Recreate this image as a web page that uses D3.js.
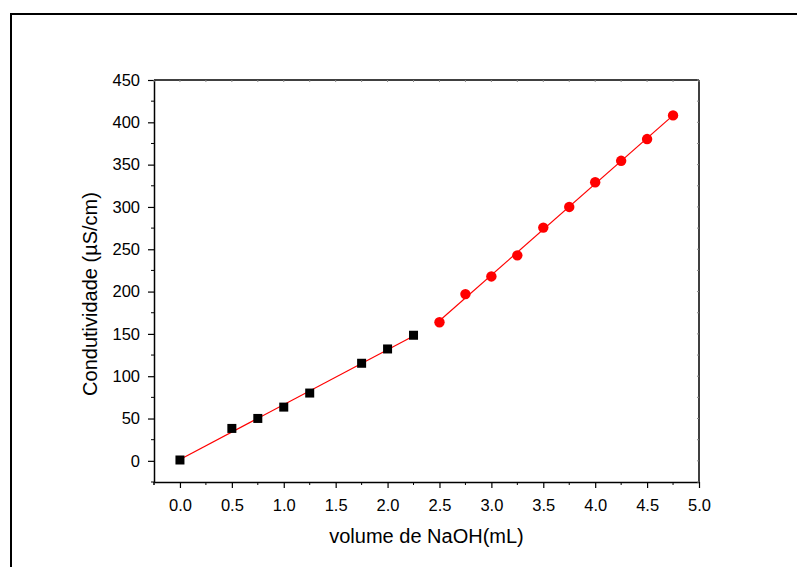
<!DOCTYPE html>
<html>
<head>
<meta charset="utf-8">
<script src="https://cdn.jsdelivr.net/npm/d3@7"></script>
<style>
  html, body { margin: 0; padding: 0; background: #fff; }
  svg { display: block; font-family: "Liberation Sans", Arial, sans-serif; }
</style>
</head>
<body>
<svg id="chart" width="797" height="567"></svg>
<script>
// ---- data ----
const blackX = [0, 0.5, 0.75, 1.0, 1.25, 1.75, 2.0, 2.25];
const blackY = [1, 38.3, 50.1, 63.5, 80.1, 115.3, 132.2, 148.4];
const redX = [2.5, 2.75, 3.0, 3.25, 3.5, 3.75, 4.0, 4.25, 4.5, 4.75];
const redY = [163.8, 197, 217.9, 242.8, 275.6, 300, 329.2, 354.5, 380.2, 408.2];
const xTicks = [0.0, 0.5, 1.0, 1.5, 2.0, 2.5, 3.0, 3.5, 4.0, 4.5, 5.0];
const yTicks = [0, 50, 100, 150, 200, 250, 300, 350, 400, 450];
const xLabel = "volume de NaOH(mL)";
const yLabel = "Condutividade (\u00B5S/cm)";

const svg = d3.select("#chart");
const L = 154, R = 699, T = 80, B = 482;

// outer frame
svg.append("rect").attr("x", 11).attr("y", 14).attr("width", 820).attr("height", 600)
  .attr("fill", "none").attr("stroke", "#000").attr("stroke-width", 2);

const x = d3.scaleLinear().domain([-0.25, 5.0]).range([L, R]);
const y = d3.scaleLinear().domain([-25, 450]).range([B, T]);

const xMinor = d3.range(-0.25, 5.01, 0.25).filter(v => !xTicks.some(t => Math.abs(t - v) < 1e-6));
const yMinor = d3.range(-25, 451, 25).filter(v => !yTicks.includes(v));

// bottom axis
const gx = svg.append("g").attr("transform", `translate(0,${B})`);
gx.call(d3.axisBottom(x).tickValues(xTicks).tickFormat(d3.format(".1f")).tickSize(6).tickPadding(11).tickSizeOuter(0));
gx.selectAll(".tick text").attr("font-size", 16.5).attr("fill", "#000");
gx.append("g").selectAll("line").data(xMinor.concat([-0.25])).join("line")
  .attr("x1", d => x(d)).attr("x2", d => x(d)).attr("y1", 0).attr("y2", 3).attr("stroke", "#000");

// left axis
const gy = svg.append("g").attr("transform", `translate(${L},0)`);
gy.call(d3.axisLeft(y).tickValues(yTicks).tickSize(6).tickPadding(8).tickSizeOuter(0));
gy.selectAll(".tick text").attr("font-size", 16.5).attr("fill", "#000");
gy.append("g").selectAll("line").data(yMinor).join("line")
  .attr("x1", 0).attr("x2", -3).attr("y1", d => y(d)).attr("y2", d => y(d)).attr("stroke", "#000");

[gx, gy].forEach(g => {
  g.selectAll(".domain").attr("stroke", "#000").attr("stroke-width", 1.5);
  g.selectAll(".tick line").attr("stroke", "#000").attr("stroke-width", 1.2);
});

// top & right axis lines with tiny inner ticks
svg.append("line").attr("x1", L).attr("x2", R).attr("y1", T).attr("y2", T).attr("stroke", "#000").attr("stroke-width", 1.5);
svg.append("line").attr("x1", R).attr("x2", R).attr("y1", T).attr("y2", B).attr("stroke", "#000").attr("stroke-width", 1.5);
svg.append("g").selectAll("line").data(d3.range(-0.25, 5.01, 0.25)).join("line")
  .attr("x1", d => x(d)).attr("x2", d => x(d)).attr("y1", T).attr("y2", T + 2).attr("stroke", "#888");
svg.append("g").selectAll("line").data(d3.range(-25, 451, 25)).join("line")
  .attr("x1", R).attr("x2", R - 2).attr("y1", d => y(d)).attr("y2", d => y(d)).attr("stroke", "#888");

// linear fits
function fit(xs, ys) {
  const mx = d3.mean(xs), my = d3.mean(ys);
  let sxy = 0, sxx = 0;
  xs.forEach((v, i) => { sxy += (v - mx) * (ys[i] - my); sxx += (v - mx) * (v - mx); });
  const b = sxy / sxx, a = my - b * mx;
  return [[xs[0], a + b * xs[0]], [xs[xs.length - 1], a + b * xs[xs.length - 1]]];
}
const line = d3.line().x(d => x(d[0])).y(d => y(d[1]));
svg.append("path").attr("d", line(fit(blackX, blackY))).attr("stroke", "#ff0000").attr("fill", "none").attr("stroke-width", 1.2);
svg.append("path").attr("d", line(fit(redX, redY))).attr("stroke", "#ff0000").attr("fill", "none").attr("stroke-width", 1.2);

// markers
const sq = 9;
svg.append("g").selectAll("rect").data(blackX.map((v, i) => [v, blackY[i]])).join("rect")
  .attr("x", d => x(d[0]) - sq / 2).attr("y", d => y(d[1]) - sq / 2)
  .attr("width", sq).attr("height", sq).attr("fill", "#000");
svg.append("g").selectAll("circle").data(redX.map((v, i) => [v, redY[i]])).join("circle")
  .attr("cx", d => x(d[0])).attr("cy", d => y(d[1])).attr("r", 5.2).attr("fill", "#ff0000");

// titles
svg.append("text").attr("x", (L + R) / 2).attr("y", 543).attr("text-anchor", "middle")
  .attr("font-size", 20).attr("fill", "#000").text(xLabel);
svg.append("text").attr("transform", `translate(97,294) rotate(-90)`).attr("text-anchor", "middle")
  .attr("font-size", 20).attr("fill", "#000").text(yLabel);
</script>
</body>
</html>
